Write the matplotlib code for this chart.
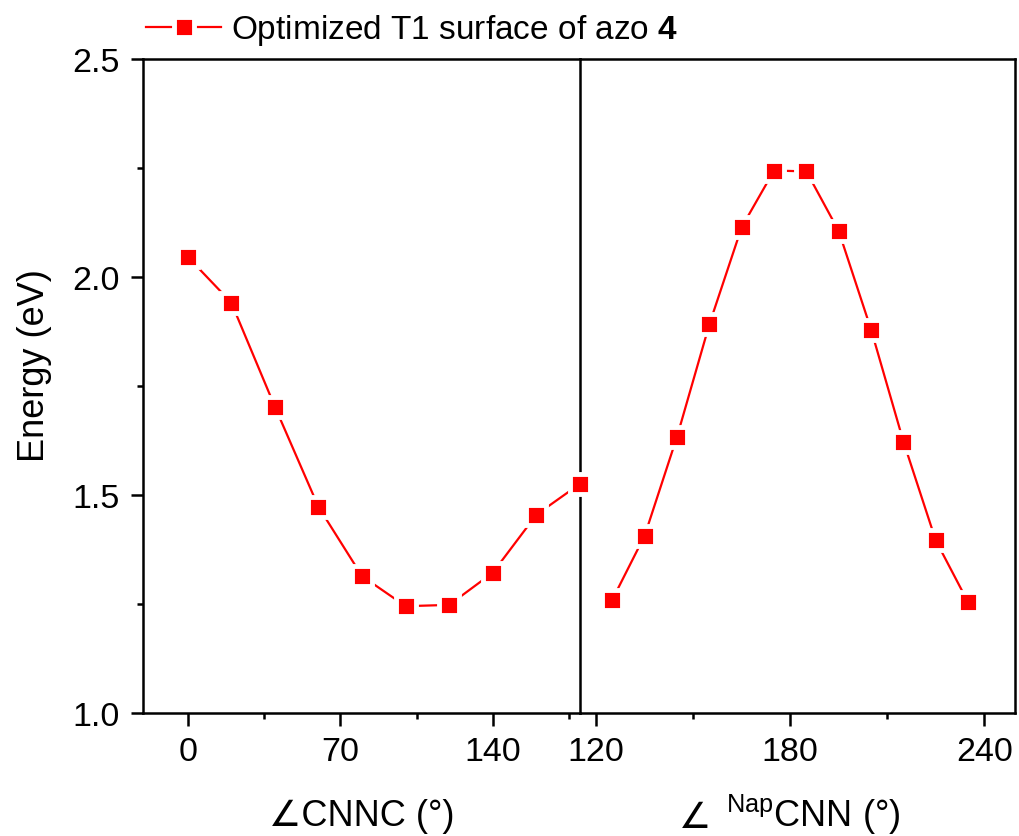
import matplotlib
matplotlib.use("Agg")
import matplotlib.pyplot as plt
from matplotlib.ticker import MultipleLocator, FixedLocator

plt.rcParams['font.family'] = ['Liberation Sans', 'DejaVu Sans']
plt.rcParams['mathtext.fontset'] = 'custom'
plt.rcParams['mathtext.rm'] = 'Liberation Sans'
plt.rcParams['mathtext.bf'] = 'Liberation Sans:bold'

# CNNC rotation scan
cnnc_angle = [0, 20, 40, 60, 80, 100, 120, 140, 160, 180]
cnnc_energy = [2.046, 1.941, 1.702, 1.472, 1.313, 1.244, 1.247, 1.321, 1.454, 1.525]

# Nap-CNN inversion scan
cnn_angle = [125, 135, 145, 155, 165, 175, 185, 195, 205, 215, 225, 235]
cnn_energy = [1.259, 1.406, 1.633, 1.891, 2.114, 2.244, 2.242, 2.105, 1.879, 1.622, 1.395, 1.253]

left_ticks = [0, 70, 140]
right_ticks = [120, 180, 240]
y_ticks = [1.0, 1.5, 2.0, 2.5]

series_label = r"Optimized T1 surface of azo $\mathbf{4}$"
left_xlabel = "∠CNNC (°)"
right_xlabel = r"$^{\mathrm{Nap}}$CNN (°)"
angle_sign = "∠"
ylabel = "Energy (eV)"

W, H, DPI = 1019, 837, 100
fig = plt.figure(figsize=(W / DPI, H / DPI), dpi=DPI)

x0, x_div, x1 = 143, 580, 1015
y_top, y_bot = 60, 713.5
bottom = 1 - y_bot / H
height = (y_bot - y_top) / H
axL = fig.add_axes([x0 / W, bottom, (x_div - x0) / W, height])
axR = fig.add_axes([x_div / W, bottom, (x1 - x_div) / W, height], sharey=axL)

line_kw = dict(color='#ff0000', lw=1.6, marker='s', markersize=14.5,
               markerfacecolor='#ff0000', markeredgecolor='white',
               markeredgewidth=3.5, clip_on=False, zorder=3)

axL.plot(cnnc_angle, cnnc_energy, label=series_label, **line_kw)
axR.plot(cnn_angle, cnn_energy, **line_kw)

axL.set_xlim(-20.5, 180)
axR.set_xlim(115, 249.5)
axL.set_ylim(1.0, 2.5)

lw = 1.8
for ax in (axL, axR):
    for s in ax.spines.values():
        s.set_linewidth(lw)
        s.set_color('black')
    ax.tick_params(axis='both', which='major', direction='out', length=9,
                   width=lw, labelsize=24.5, pad=8, top=False, right=False)
    ax.tick_params(axis='both', which='minor', direction='out', length=4.5,
                   width=lw, top=False, right=False)

axR.spines['left'].set_visible(False)
axR.tick_params(axis='y', which='both', left=False, labelleft=False)
axR.set_zorder(axL.get_zorder() - 1)

axL.xaxis.set_major_locator(FixedLocator(left_ticks))
axL.xaxis.set_minor_locator(FixedLocator([35, 105, 175]))
axR.xaxis.set_major_locator(FixedLocator(right_ticks))
axR.xaxis.set_minor_locator(FixedLocator([150, 210]))
axL.yaxis.set_major_locator(FixedLocator(y_ticks))
axL.yaxis.set_minor_locator(MultipleLocator(0.25))
axL.set_yticklabels([f"{v:.1f}" for v in y_ticks])

axL.set_xlabel(left_xlabel, fontsize=26, labelpad=22)
axR.set_xlabel(right_xlabel, fontsize=26, labelpad=18)
axR.xaxis.label.set_x(0.535)
# angle sign in front of the right-hand axis label
axR.annotate(angle_sign, xy=(0, 0), xycoords=axR.xaxis.label,
             xytext=(-10, 1), textcoords='offset points',
             ha='right', va='bottom', fontsize=26)

axL.set_ylabel(ylabel, fontsize=26)
axL.yaxis.set_label_coords(-0.208, 0.532)

axL.legend(loc='center left', bbox_to_anchor=(146 / W, 1 - 31 / H),
           bbox_transform=fig.transFigure, frameon=False, fontsize=24,
           handlelength=2.25, handletextpad=0.3, borderpad=0, borderaxespad=0)

fig.savefig("out.png", dpi=DPI)
